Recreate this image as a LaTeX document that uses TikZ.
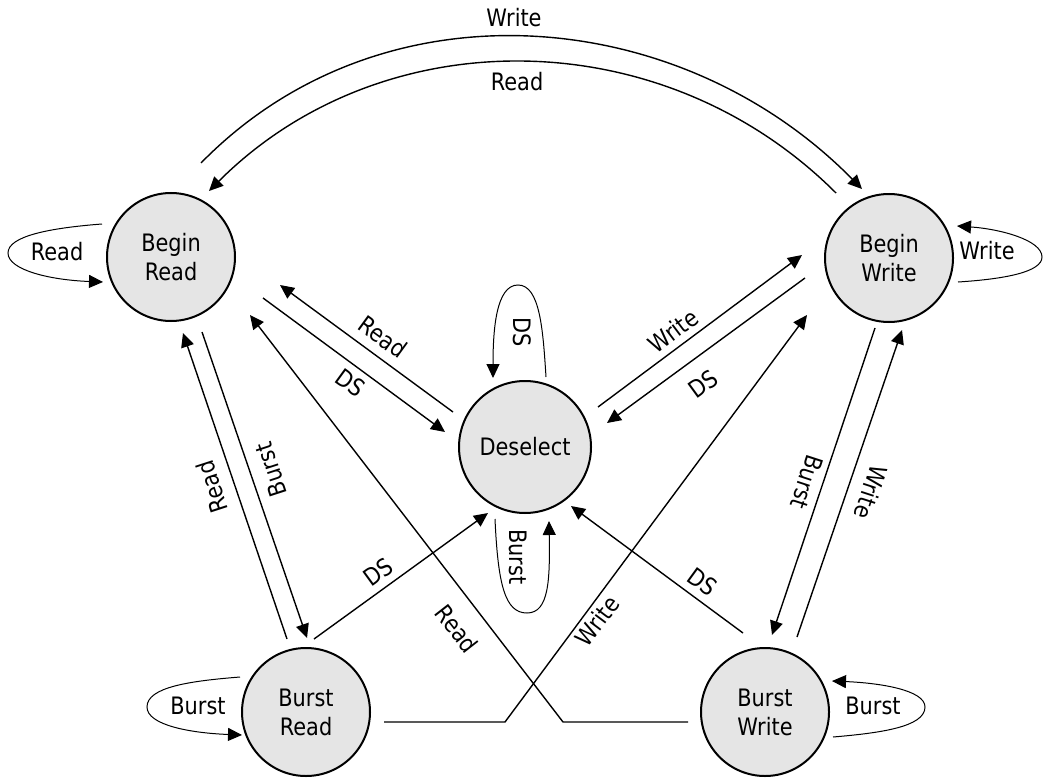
\documentclass[tikz,border=0pt]{standalone}
\usepackage{fontspec}
\setmainfont{DejaVu Sans}[FakeStretch=0.87]
\usetikzlibrary{arrows.meta}
\begin{document}
\begin{tikzpicture}[x=1pt,y=-1pt,
  state/.style={circle, draw, line width=2pt, fill=gray!20, minimum size=128pt, inner sep=0pt, align=center, font=\fontsize{24}{29}\selectfont},
  trans/.style={line width=1.4pt, -{Triangle[length=14pt,width=13pt]}},
  loopline/.style={line width=1pt, -{Triangle[length=14pt,width=13pt]}},
  lbl/.style={inner sep=0pt, font=\fontsize{24}{29}\selectfont}]
\useasboundingbox (0,0) rectangle (1043,778);

\node[state] (BR) at (171,257) {Begin\\Read};
\node[state] (BW) at (889,258) {Begin\\Write};
\node[state, minimum size=132pt] (DS) at (525,447) {Deselect};
\node[state] (BuR) at (306,712) {Burst\\Read};
\node[state] (BuW) at (765,712) {Burst\\Write};

% top arcs
\draw[trans] ([shift={(30,-94)}]BR.center) .. controls +(181,-185) and +(-182,-185) .. ([shift={(-27,-69)}]BW.center);
\draw[trans] ([shift={(-53,-65)}]BW.center) .. controls +(-173,-173) and +(173,-173) .. ([shift={(38,-66)}]BR.center);

% self loops
\draw[loopline] ([shift={(-69,-33)}]BR.center) .. controls +(-52,4) and +(0,-17) .. ++(-94,29)
  .. controls +(0,17) and +(-53,-2) .. ([shift={(-68,25)}]BR.center);
\draw[loopline] ([shift={(69,24)}]BW.center) .. controls +(47,-3) and +(0,15) .. ++(84,-25)
  .. controls +(0,-17) and +(43,3) .. ([shift={(68,-32)}]BW.center);
\draw[loopline] ([shift={(21,-70)}]DS.center) .. controls +(-3,-47) and +(22,0) .. ++(-28,-92)
  .. controls +(-22,0) and +(0,-48) .. ([shift={(-32,-69)}]DS.center);
\draw[loopline] ([shift={(-30,72)}]DS.center) .. controls +(3,66) and +(-22,0) .. ++(32,94)
  .. controls +(22,0) and +(1,59) .. ([shift={(24,74)}]DS.center);
\draw[loopline] ([shift={(-66,-35)}]BuR.center) .. controls +(-50,4) and +(0,-20) .. ++(-93,30)
  .. controls +(0,18) and +(-52,-2) .. ([shift={(-64,23)}]BuR.center);
\draw[loopline] ([shift={(68,25)}]BuW.center) .. controls +(47,-4) and +(0,20) .. ++(92,-30)
  .. controls +(0,-17) and +(48,2) .. ([shift={(67,-31)}]BuW.center);

% straight transitions
\draw[trans] ([shift={(92,41)}]BR.center) -- ([shift={(-80,-15)}]DS.center);
\draw[trans] ([shift={(-72,-35)}]DS.center) -- ([shift={(109,28)}]BR.center);
\draw[trans] ([shift={(73,-40)}]DS.center) -- ([shift={(-87,-3)}]BW.center);
\draw[trans] ([shift={(-84,20)}]BW.center) -- ([shift={(82,-24)}]DS.center);
\draw[trans] ([shift={(-19,-73)}]BuR.center) -- ([shift={(12,76)}]BR.center);
\draw[trans] ([shift={(31,75)}]BR.center) -- ([shift={(1,-74)}]BuR.center);
\draw[trans] ([shift={(8,-73)}]BuR.center) -- ([shift={(-37,66)}]DS.center);
\draw[trans] ([shift={(-77,10)}]BuW.center) -- ++(-125,0) -- ([shift={(79,58)}]BR.center);
\draw[trans] ([shift={(78,10)}]BuR.center) -- ++(121,0) -- ([shift={(-82,57)}]BW.center);
\draw[trans] ([shift={(-14,70)}]BW.center) -- ([shift={(7,-77)}]BuW.center);
\draw[trans] ([shift={(32,-75)}]BuW.center) -- ([shift={(13,72)}]BW.center);
\draw[trans] ([shift={(-22,-79)}]BuW.center) -- ([shift={(46,59)}]DS.center);

% labels
\node[lbl] (l1) at (514,18) {Write};
\node[lbl] (l2) at (517,82) {Read};
\node[lbl] (l3) at (57,252) {Read};
\node[lbl] (l4) at (987,251) {Write};
\node[lbl, rotate=-36] (l5) at (350,383) {DS};
\node[lbl, rotate=-36] (l6) at (383,337) {Read};
\node[lbl, rotate=-90] (l7) at (522,332) {DS};
\node[lbl, rotate=-90] (l8) at (518,557) {Burst};
\node[lbl, rotate=37] (l9) at (673,331) {Write};
\node[lbl, rotate=36] (l10) at (703,384) {DS};
\node[lbl, rotate=108] (l11) at (212,487) {Read};
\node[lbl, rotate=108] (l12) at (271,470) {Burst};
\node[lbl, rotate=36] (l13) at (378,572) {DS};
\node[lbl, rotate=-52] (l14) at (457,629) {Read};
\node[lbl, rotate=53] (l15) at (597,621) {Write};
\node[lbl, rotate=-108] (l16) at (807,482) {Burst};
\node[lbl, rotate=-108] (l17) at (871,492) {Write};
\node[lbl, rotate=-36] (l18) at (702,582) {DS};
\node[lbl] (l19) at (198,706) {Burst};
\node[lbl] (l20) at (873,706) {Burst};
\end{tikzpicture}
\end{document}
